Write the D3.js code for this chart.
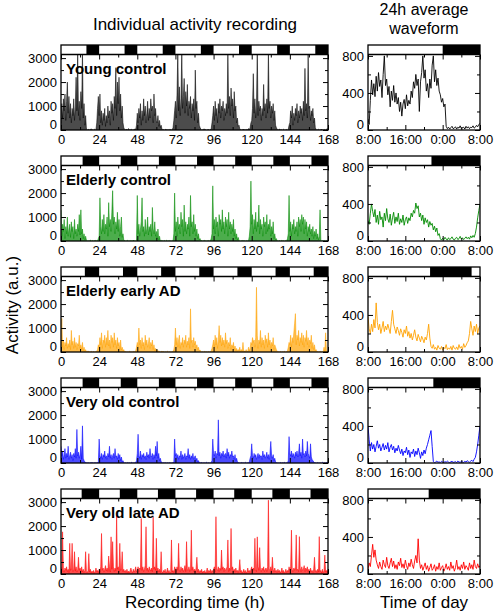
<!DOCTYPE html>
<html><head><meta charset="utf-8">
<script src="https://cdn.jsdelivr.net/npm/d3@7"></script>
<style>
body{margin:0;background:#fff}
svg{display:block}
text{font-family:"Liberation Sans",Arial,Helvetica,sans-serif;fill:#000}
</style>
</head><body>
<svg id="chart" width="494" height="616"></svg>
<script>
// ---------- DATA ----------
const panelNames = ["Young control","Elderly control","Elderly early AD","Very old control","Very old late AD"];
const panelColors = ["#000000","#008a00","#ffa200","#0000ff","#ff0000"];
const lightsOffLeft = [16, 13.6, 15, 13.6, 13];           // hour of day (from recording start) lights off
const darkRight = [[[16,24]],[[13.6,24]],[[13.3,22.2]],[[14,24]],[[13,24]]]; // hours after 8:00
const leftXMajor = [0,24,48,72,96,120,144,168];
const leftXMinor = [12,36,60,84,108,132,156];
const leftYMajor = [0,1000,2000,3000];
const leftYMinor = [500,1500,2500];
const rightXMajor = [0,8,16,24];
const rightXLabels = ["8:00","16:00","0:00","8:00"];
const rightXMinor = [4,12,20];
const rightYMajor = [0,400,800];
const rightYMinor = [200,600];

// half-hourly activity, 0..168 h
const youngControl = [
300,1100,500,1300,800,1500,400,1200,2000,700,1400,500,1100,300,900,600,1300,400,1000,2200,800,3300,600,1200,400,1600,900,3300,500,1100,200,600,
40,10,0,30,0,20,50,0,10,0,30,0,20,300,900,1400,
600,1500,300,800,200,700,400,900,150,600,300,1000,500,800,200,1200,700,1100,400,1400,900,2600,600,2000,1100,2200,800,1500,500,1000,300,100,
20,0,40,0,10,60,0,20,0,30,0,10,0,50,20,200,
700,300,900,500,1100,200,800,400,1300,600,1000,300,700,1200,400,900,500,1300,800,1000,300,1500,600,900,400,300,600,150,400,100,200,50,
0,20,0,10,40,0,10,0,30,0,20,0,10,100,400,800,
1200,500,1500,3300,800,1800,600,1300,3300,900,1400,2150,700,1600,1000,1900,600,1200,900,1400,500,1100,800,1300,400,2500,900,1200,300,700,200,100,
30,0,10,0,50,0,20,0,0,30,10,0,20,50,300,600,
1000,400,1200,600,900,300,1100,700,1300,500,1000,800,1200,400,900,600,1100,700,3300,900,1400,600,1750,1000,1300,500,1600,800,1000,300,500,150,
200,50,10,0,20,0,40,0,10,0,30,0,60,0,100,300,
400,900,2350,700,1300,500,1000,3300,600,1200,800,1000,400,900,600,1900,800,1100,500,1300,700,3300,900,1200,500,1000,700,1100,400,800,200,100,
30,0,10,40,0,20,0,0,30,0,10,0,20,0,30,200,
300,800,500,1000,200,700,400,900,600,1100,300,800,500,1000,700,900,400,1200,600,2570,800,1100,500,3200,900,1000,400,800,600,900,300,500,
100,20,0,10,30,0,20,0,40,0,10,0,20,0,30,50,
40];
const elderlyControl = [
1300,200,700,400,900,100,600,300,1000,200,500,700,150,800,400,600,100,900,300,500,200,700,400,1100,250,1300,300,500,100,300,50,200,
30,0,20,0,10,40,0,0,20,0,10,30,0,10,0,100,
200,1800,600,300,900,400,1100,300,700,500,1000,200,1600,600,900,400,1200,2100,700,1000,300,800,500,1200,400,900,200,600,1000,150,300,50,
20,0,10,0,30,0,0,20,0,10,0,40,0,10,0,30,
1900,300,700,200,500,800,1800,400,600,200,900,300,500,1000,250,600,400,700,200,1400,500,300,800,200,400,100,500,50,200,0,30,0,
10,0,20,0,0,30,0,10,0,20,0,0,10,0,300,2000,
400,800,200,1000,500,700,300,1200,600,900,200,1500,400,800,300,700,500,1000,200,1900,600,800,300,1100,400,700,200,500,100,300,50,100,
0,20,0,10,0,30,0,0,10,0,20,0,0,100,300,2300,
500,900,300,1000,600,800,200,1100,700,900,400,1300,500,800,300,1000,600,900,200,1200,500,800,300,700,400,900,200,500,100,300,50,150,
20,0,0,10,0,30,0,10,0,0,20,0,10,200,600,2500,
700,1100,300,900,500,1200,400,800,600,1500,300,900,500,700,200,1000,600,800,300,1100,400,700,500,900,200,600,300,800,100,300,50,100,
0,10,0,20,0,0,30,0,10,0,0,20,0,100,300,1900,
400,800,200,700,500,900,300,600,400,800,200,1000,600,900,400,1100,700,1000,300,900,500,800,200,600,400,700,300,500,200,600,100,400,
200,500,100,300,50,200,1300,30,0,10,0,20,0,0,10,0,
0];
const elderlyEarlyAD = [
300,1400,200,500,100,400,250,600,150,350,200,500,100,900,300,450,150,600,200,400,100,350,250,700,150,300,100,400,50,200,30,100,
20,0,50,0,10,0,30,0,0,20,0,10,0,40,100,300,
200,600,300,800,150,500,400,700,200,600,300,900,250,500,150,700,400,600,200,800,300,500,150,600,250,400,100,500,80,200,50,100,
0,20,0,10,0,0,30,0,10,0,0,20,0,10,50,200,
400,200,1000,300,500,150,600,250,400,100,700,300,500,200,350,600,150,400,250,500,100,300,50,150,30,100,0,50,20,0,10,40,
0,20,0,0,10,0,30,0,0,10,0,0,20,0,100,300,
1000,300,600,200,500,700,150,400,300,600,200,500,350,700,200,450,300,600,150,1800,400,500,200,600,300,450,150,300,100,200,50,80,
20,0,10,0,0,30,0,10,0,0,20,0,10,50,150,300,
500,200,700,300,600,150,500,1100,400,700,250,600,300,500,200,800,350,500,150,400,250,600,100,300,200,400,100,250,50,150,30,100,
50,200,0,100,20,400,0,50,10,100,0,30,200,50,150,400,
300,600,400,500,200,600,2700,700,150,500,350,900,200,600,300,500,150,700,400,550,200,800,300,500,150,400,250,600,100,300,200,100,
30,0,10,0,20,0,0,10,0,30,0,0,10,50,200,400,
300,700,200,600,400,800,1200,1600,300,700,500,900,250,600,400,800,300,700,200,600,450,900,300,600,200,500,350,700,150,400,100,300,
50,100,0,20,0,10,0,30,0,10,0,200,0,800,50,20,
10];
const veryOldControl = [
700,300,500,150,350,600,200,400,250,700,150,300,450,200,350,100,400,250,600,200,1400,300,450,200,350,700,150,1550,200,100,50,20,
10,0,20,0,0,10,0,30,0,0,10,0,20,0,10,50,
1000,300,200,400,150,350,250,500,200,300,150,400,250,700,200,350,150,300,400,200,600,250,300,150,400,200,350,100,250,50,100,20,
0,10,0,0,20,0,10,0,0,30,0,0,10,0,20,100,
400,1200,300,200,500,150,350,250,400,200,300,150,450,250,350,200,600,300,250,400,150,350,200,700,300,900,200,400,100,200,50,30,
0,10,0,20,0,0,10,0,0,20,0,0,10,0,50,1000,
300,400,200,350,150,300,250,500,150,350,200,300,400,150,300,250,600,200,350,150,300,200,400,150,250,300,100,200,50,100,20,10,
0,20,0,0,10,0,0,30,0,0,10,0,0,20,100,1000,
400,300,500,200,400,350,1800,300,450,200,400,300,500,250,350,400,200,600,300,450,200,350,300,500,250,300,150,350,100,200,50,20,
10,0,0,20,0,10,0,0,30,0,0,10,0,50,200,300,
800,300,200,400,250,350,150,300,400,200,350,250,300,150,500,250,350,200,300,450,200,350,150,400,900,300,200,350,100,200,50,20,
0,10,0,0,20,0,0,10,0,30,0,0,10,0,100,1100,
400,300,500,250,400,350,200,450,300,500,250,400,800,300,450,200,1000,350,400,250,500,300,900,400,300,200,800,250,150,100,50,20,
10,0,0,20,0,0,10,0,0,30,0,0,10,0,20,0,
50];
const veryOldLateAD = [
300,100,1760,200,80,250,150,300,100,200,60,1280,150,250,1280,100,200,930,120,300,80,200,700,150,250,100,300,80,200,60,150,930,100,50,150,850,80,200,40,120,60,150,30,100,250,80,150,60,
200,100,300,1690,150,250,80,200,350,120,250,100,750,300,80,1550,200,1350,300,100,250,120,2460,200,300,100,1280,150,250,930,100,200,80,150,60,200,40,120,50,150,250,100,60,200,80,150,300,100,
150,300,100,250,200,2320,150,300,100,200,350,1970,150,250,100,300,200,120,250,100,2390,200,300,150,1490,100,250,80,200,60,930,100,50,150,80,200,40,100,250,60,150,30,100,1420,80,150,60,300,
200,100,300,150,1280,200,100,300,150,250,100,200,350,100,1350,200,150,300,100,250,1830,150,300,100,200,80,250,700,100,200,60,150,80,200,40,120,60,150,30,100,250,60,150,80,200,50,150,100,
200,300,100,2390,200,150,300,100,250,150,1000,200,300,100,250,150,200,300,1420,100,250,150,1900,200,300,100,200,80,250,100,150,60,200,600,80,150,40,100,200,60,150,30,100,250,80,150,60,200,
300,100,250,150,1490,200,100,1550,300,150,1100,200,100,250,150,300,100,200,250,100,300,3080,200,150,300,100,700,200,80,250,100,150,60,200,80,150,40,120,250,60,150,30,100,200,60,150,80,300,
150,300,1830,200,100,250,150,300,1630,150,200,100,1560,250,100,300,150,200,350,100,250,150,300,100,200,80,250,100,150,60,200,700,100,150,60,200,80,1560,100,150,40,200,60,120,790,80,150,60,
200];

// 24 h average waveform, 15-min steps from 8:00 to 8:00
const youngWave = [120,60,320,540, 380,500,360,580,420,620,470,540,350,600, 800,480,550, 380,470,250,420,320,480,300,400,
280,350,200,300,150,280,330,230,380,260,320,280, 420,350,520,450,600,480,550,200,520,620,800,560,650, 420,500,350,
550,450,700,800,520,650,480,560, 420,380,300,340,250,280,40,
15,30,10,25,40,15,20,35,10,30,20,45,15,25,30,10,40,20,35,15,30,25,45,20,30,50,35,60,70];
const elderlyWave = [220,180,300,400,320,260,340,200, 280,180,320,230,260,150,300,220,350,240,200,290,170,250,310,190,260,210,300,180,
240,200,280,170,230,260,190,250,220,300,260,330, 300,410,350,380,260, 300,220,280,180,250,200,230,150,210,170,190,120,
160,100,140,60,80, 25,10,30,15,40,20,10,35,15,25,45,20,10,30,40,15,25,50,20,35,15,30,45,25,40,20,55,35,60,40, 80,150,250,330,400];
const earlyADWave = [380,250,200,300,220,350,260,530, 320,240,300,200,260,330,220,280,240,300,250,200,330,450,
300,250,200,270,230,180,250,210,160,240,200,280,170,220,150,200,130,180,240,160,120,190,150,110,170,140,100,160,130,200,300,150,
60,40,80,30,50,20,70,40,30,60,20,50,35,80,25,45,30,60,20,70,40,30,55,25,80,40,60,30,90,50,70,100,120,
200,330,250,180,280,220,300,200,260,280];
const veryOldWave = [400,250,130,220, 150,200,120,180,240,160,200,130,170,210,140,190,150,220,120,170,200,140,180,110,160,130,190,140,
100,150,80,130,110,170,90,140,60,120,100,150,70,130,90,160,110,50,120,80,140,100,160, 200,250,300,350,180,
15,5,10,20,8,12,5,18,10,6,15,8,20,10,5,12,18,7,10,15,5,20,10,8,15,12,6,18,10,25,15,8,20,30,15,40,60, 120,200,300,400];
const lateADWave = [50,120,80,200,320,180,260,150,100,
60,130,80,50,150,100,70,180,90,60,120,170,80,140,60,100,50,130,90,170,70,110,60,150,90,50,120,80,160,100,60,140,200,120,380,
150,60,100,40,80,120,50,90,30,70,110,40,60,100,30,80,50,120,40,70,90,30,60,110,50,80,40,130,60,90,30,70,150,50,80,40,100,60,130,50,90,70,40,120,60,100,50,150,80,60,110,70,90];

const leftSeries = [youngControl, elderlyControl, elderlyEarlyAD, veryOldControl, veryOldLateAD];
const rightSeries = [youngWave, elderlyWave, earlyADWave, veryOldWave, lateADWave];

// ---------- LAYOUT ----------
const svg = d3.select("#chart");
const L0 = 61, L1 = 328, R0 = 368, R1 = 480;
const PANEL_STEP = 111, BAR_H = 9.5;
const FONT = '"Liberation Sans",Arial,Helvetica,sans-serif';

function styleAxis(g, size) {
  g.select(".domain").remove();
  g.selectAll("line").attr("stroke", "#000").attr("stroke-width", 1);
  g.selectAll("text").attr("font-size", size).attr("font-family", FONT).attr("fill", "#000");
  return g;
}

function drawPanel(p, side) {
  const isLeft = side === "left";
  const x0 = isLeft ? L0 : R0, x1 = isLeft ? L1 : R1;
  const top = 45 + PANEL_STEP * p, pTop = top + BAR_H, pBot = 130 + PANEL_STEP * p;
  const x = d3.scaleLinear().domain(isLeft ? [0,168] : [0,24]).range([x0, x1]);
  const y = d3.scaleLinear().domain(isLeft ? [0,3150] : [0,815]).range([pBot, pTop]);
  const data = isLeft ? leftSeries[p] : rightSeries[p];
  const step = isLeft ? 0.5 : 0.25;
  const color = panelColors[p];

  const cid = `clip-${side}-${p}`;
  svg.append("clipPath").attr("id", cid).append("rect")
    .attr("x", x0).attr("y", pTop).attr("width", x1 - x0).attr("height", pBot - pTop);
  const g = svg.append("g").attr("clip-path", `url(#${cid})`);
  const line = d3.line().x((d,i) => x(i*step)).y(d => y(d));
  if (isLeft) {
    const area = d3.area().x((d,i) => x(i*step)).y0(pBot).y1(d => y(d));
    g.append("path").datum(data).attr("d", area).attr("fill", color).attr("fill-opacity", 0.7);
  }
  g.append("path").datum(data).attr("d", line).attr("fill", "none").attr("stroke", color)
    .attr("stroke-width", isLeft ? 0.6 : 0.9).attr("stroke-opacity", isLeft ? 0.9 : 1);

  // light/dark bar
  svg.append("rect").attr("x", x0).attr("y", top).attr("width", x1 - x0).attr("height", BAR_H).attr("fill", "#fff");
  let dark = [];
  if (isLeft) { for (let k = 0; k < 7; k++) dark.push([24*k + lightsOffLeft[p], 24*k + 24]); }
  else dark = darkRight[p];
  svg.selectAll(null).data(dark).enter().append("rect")
    .attr("x", d => x(d[0])).attr("y", top).attr("width", d => x(d[1]) - x(d[0])).attr("height", BAR_H).attr("fill", "#000");

  // axes
  const xMaj = isLeft ? leftXMajor : rightXMajor, xMin = isLeft ? leftXMinor : rightXMinor;
  const yMaj = isLeft ? leftYMajor : rightYMajor, yMin = isLeft ? leftYMinor : rightYMinor;
  const xFmt = isLeft ? d3.format("d") : (d => rightXLabels[rightXMajor.indexOf(d)]);
  styleAxis(svg.append("g").attr("transform", `translate(0,${pBot})`)
    .call(d3.axisBottom(x).tickValues(xMaj).tickSize(-5).tickPadding(5).tickFormat(xFmt)), 13);
  styleAxis(svg.append("g").attr("transform", `translate(0,${pBot})`)
    .call(d3.axisBottom(x).tickValues(xMin).tickSize(-3).tickFormat(() => "")), 13);
  styleAxis(svg.append("g").attr("transform", `translate(0,${pTop})`)
    .call(d3.axisTop(x).tickValues(xMaj).tickSize(-5).tickFormat(() => "")), 13);
  styleAxis(svg.append("g").attr("transform", `translate(0,${pTop})`)
    .call(d3.axisTop(x).tickValues(xMin).tickSize(-3).tickFormat(() => "")), 13);
  const yl = styleAxis(svg.append("g").attr("transform", `translate(${x0},0)`)
    .call(d3.axisLeft(y).tickValues(yMaj).tickSize(-5).tickPadding(4).tickFormat(d3.format("d"))), 13);
  // lift the "0" label a little so it clears the time labels below
  yl.selectAll(".tick text").filter(d => d === 0).attr("dy", "-0.12em");
  styleAxis(svg.append("g").attr("transform", `translate(${x0},0)`)
    .call(d3.axisLeft(y).tickValues(yMin).tickSize(-3).tickFormat(() => "")), 13);
  styleAxis(svg.append("g").attr("transform", `translate(${x1},0)`)
    .call(d3.axisRight(y).tickValues(yMaj).tickSize(-5).tickFormat(() => "")), 13);
  styleAxis(svg.append("g").attr("transform", `translate(${x1},0)`)
    .call(d3.axisRight(y).tickValues(yMin).tickSize(-3).tickFormat(() => "")), 13);

  // frames
  svg.append("rect").attr("x", x0).attr("y", top).attr("width", x1 - x0).attr("height", pBot - top)
    .attr("fill", "none").attr("stroke", "#000").attr("stroke-width", 1.3);
  svg.append("line").attr("x1", x0).attr("x2", x1).attr("y1", pTop).attr("y2", pTop)
    .attr("stroke", "#000").attr("stroke-width", 1.3);

  if (isLeft) {
    svg.append("text").attr("x", x0 + 5).attr("y", pTop + 19.5)
      .attr("font-size", 15).attr("font-weight", "bold").text(panelNames[p]);
  }
}

for (let p = 0; p < 5; p++) { drawPanel(p, "left"); drawPanel(p, "right"); }

// titles
svg.append("text").attr("x", 195).attr("y", 30).attr("text-anchor", "middle").attr("font-size", 17).text("Individual activity recording");
svg.append("text").attr("x", 424).attr("y", 15).attr("text-anchor", "middle").attr("font-size", 16).text("24h average");
svg.append("text").attr("x", 424).attr("y", 34).attr("text-anchor", "middle").attr("font-size", 16).text("waveform");
svg.append("text").attr("x", 195).attr("y", 608).attr("text-anchor", "middle").attr("font-size", 17).text("Recording time (h)");
svg.append("text").attr("x", 424).attr("y", 608).attr("text-anchor", "middle").attr("font-size", 17).text("Time of day");
svg.append("text").attr("transform", "translate(18,305) rotate(-90)").attr("text-anchor", "middle").attr("font-size", 17).text("Activity (a.u.)");
</script>
</body></html>
